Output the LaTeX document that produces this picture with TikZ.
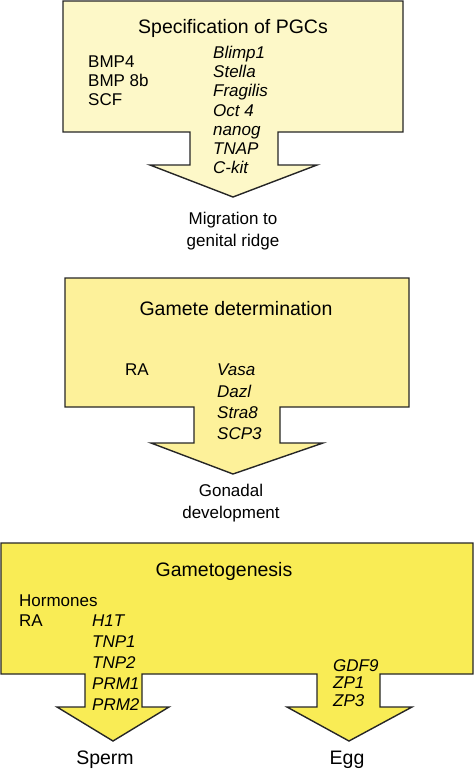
\documentclass[tikz,border=0pt]{standalone}
\usepackage{fontspec}
\setmainfont{Liberation Sans}
\usepackage{tikz}

\definecolor{pale}{HTML}{FDF8C8}
\definecolor{mid}{HTML}{FDF19A}
\definecolor{bright}{HTML}{F9EC55}

\tikzset{
  stage/.style={draw=black!85, line width=1.4pt, line join=miter},
  head/.style={inner sep=0pt, font=\fontsize{19.5}{22}\selectfont},
  genes/.style={inner sep=0pt, anchor=west, align=left, font=\fontsize{17}{19.2}\selectfont\itshape},
  factors/.style={inner sep=0pt, anchor=west, align=left, font=\fontsize{17}{19.2}\selectfont},
  outcome/.style={inner sep=0pt, align=center, font=\fontsize{17}{22.5}\selectfont}
}

\begin{document}
\begin{tikzpicture}[x=1pt, y=-1pt]
    \useasboundingbox (0,0) rectangle (474,772);

    % first stage
    \draw[stage, fill=pale] (63,1) -- (403,1) -- (403,132) -- (278,132)
        -- (278,165) -- (317,165) -- (233,197) -- (150,165) -- (190,165)
        -- (190,132) -- (63,132) -- cycle;
    \node[head] (11) at (233,28) {Specification of PGCs};
    \node[factors] (12) at (88,81) {BMP4\\BMP 8b\\SCF};
    \node[genes] (13) at (213,110) {Blimp1\\Stella\\Fragilis\\Oct 4\\nanog\\TNAP\\C-kit};
    \node[outcome] (14) at (233,231) {Migration to\\genital ridge};

    % second stage
    \draw[stage, fill=mid] (65,278) -- (409,278) -- (409,407) -- (280,407)
        -- (280,443) -- (323,443) -- (233,474) -- (151,443) -- (194,443)
        -- (194,407) -- (65,407) -- cycle;
    \node[head] (21) at (236,309) {Gamete determination};
    \node[factors] (22) at (125,370) {RA};
    \node[genes, font=\fontsize{17}{21.3}\selectfont\itshape] (23) at (217,402) {Vasa\\Dazl\\Stra8\\SCP3};
    \node[outcome] (24) at (231,503) {Gonadal\\development};

    % third stage
    \draw[stage, fill=bright] (1,543) -- (473,543) -- (473,674) -- (380,674)
        -- (380,707) -- (412,707) -- (349,741) -- (287,707) -- (317,707)
        -- (317,674) -- (142,674) -- (142,707) -- (169,707) -- (113,741)
        -- (57,707) -- (85,707) -- (85,674) -- (1,674) -- cycle;
    \node[head] (31) at (224,571) {Gametogenesis};
    \node[factors, font=\fontsize{17}{20}\selectfont] (32) at (19,611) {Hormones\\RA};
    \node[genes, font=\fontsize{17}{21}\selectfont\itshape] (33) at (92,663) {H1T\\TNP1\\TNP2\\PRM1\\PRM2};
    \node[genes, font=\fontsize{17}{17.5}\selectfont\itshape] (34) at (333,683) {GDF9\\ZP1\\ZP3};
    \node[head] (35) at (105,760) {Sperm};
    \node[head] (36) at (347,760) {Egg};

\end{tikzpicture}
\end{document}
